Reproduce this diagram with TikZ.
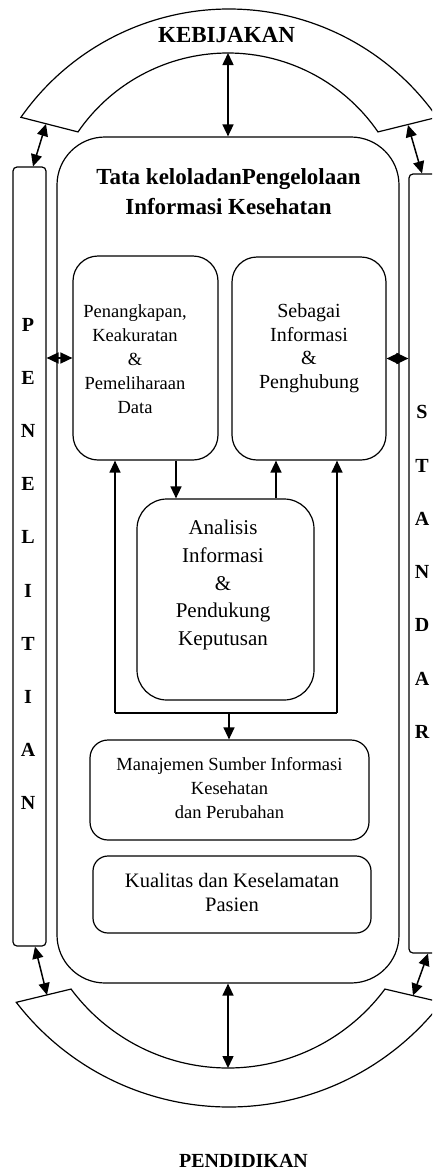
\documentclass[tikz,border=0pt]{standalone}
\usepackage{fontspec}
\setmainfont{Liberation Serif}
\usetikzlibrary{arrows.meta,calc}
\begin{document}
\begin{tikzpicture}[x=1pt,y=-1pt,
  shp/.style={draw=black,line width=1.2pt},
  box/.style={shp,inner sep=0pt},
  tip/.tip={Triangle[length=12pt,width=11pt]},
  dbl/.style={line width=1.5pt,tip-tip},
  sgl/.style={line width=1.5pt,-tip},
  lnk/.style={line width=1.3pt},
  txt/.style={align=center,inner sep=0pt}]
\useasboundingbox (0,0) rectangle (432,1173);
\clip (0,0) rectangle (432,1173);

% arches
\draw[shp] ($(229,263)+(-145:254)$) arc[start angle=-145,end angle=-35,radius=254]
  -- ($(228,235)+(-34.5:182)$) arc[start angle=-34.5,end angle=-145.5,radius=182] -- cycle;
\draw[shp] ($(229,838.5)+(142.4:268.5)$) arc[start angle=142.4,end angle=37.6,radius=268.5]
  -- ($(228,872.5)+(36.6:195.5)$) arc[start angle=36.6,end angle=143.4,radius=195.5] -- cycle;
\coordinate (kin) at (228,53);
\coordinate (kleft) at (46,124);
\coordinate (kright) at (408,125);
\coordinate (pin) at (228,1068);
\coordinate (pleft) at (47,995);
\coordinate (pright) at (413,995.5);

\node[font=\bfseries\fontsize{23}{28}\selectfont,txt] (keb) at (226.5,35.5) {KEBIJAKAN};
\node[font=\bfseries\fontsize{20}{24}\selectfont,txt] (pend) at (243.5,1161) {PENDIDIKAN};

% frames
\node[box,rounded corners=48pt,minimum width=342pt,minimum height=846pt] (main) at (228,560) {};
\node[box,rounded corners=4pt,minimum width=33pt,minimum height=779pt] (pen) at (29.5,556.5) {};
\node[box,rounded corners=4pt,minimum width=33pt,minimum height=779pt] (std) at (425.5,563.5) {};
\node[txt,font=\bfseries\fontsize{20}{53.2}\selectfont] (pentxt) at (28,564) {P\\E\\N\\E\\L\\I\\T\\I\\A\\N};
\node[txt,font=\bfseries\fontsize{20}{53.3}\selectfont] (stdtxt) at (422,572) {S\\T\\A\\N\\D\\A\\R};

\node[txt,font=\bfseries\fontsize{23}{30}\selectfont] (title) at (228.5,192) {Tata keloladanPengelolaan\\Informasi Kesehatan};

% inner boxes
\node[box,rounded corners=25pt,minimum width=145pt,minimum height=204pt] (b1) at (145.5,358) {};
\node[box,rounded corners=25pt,minimum width=154pt,minimum height=203pt] (b2) at (309,358.5) {};
\node[box,rounded corners=30pt,minimum width=177pt,minimum height=201pt] (b3) at (225.5,599.5) {};
\node[box,rounded corners=18pt,minimum width=279pt,minimum height=100pt] (b4) at (229.5,790) {};
\node[box,rounded corners=15pt,minimum width=278pt,minimum height=77pt] (b5) at (232,894.5) {};

\node[txt,font=\fontsize{18.5}{24}\selectfont] (t1) at (135,359.5) {Penangkapan,\\Keakuratan\\\&\\Pemeliharaan\\Data};
\node[txt,font=\fontsize{20}{23.5}\selectfont] (t2) at (309,348) {Sebagai\\Informasi\\\&\\Penghubung};
\node[txt,font=\fontsize{21}{27.8}\selectfont] (t3) at (223,585) {Analisis\\Informasi\\\&\\Pendukung\\Keputusan};
\node[txt,font=\fontsize{18.5}{24}\selectfont] (t4) at (229.5,788) {Manajemen Sumber Informasi\\Kesehatan\\dan Perubahan};
\node[txt,font=\fontsize{20.5}{24}\selectfont] (t5) at (232,892) {Kualitas dan Keselamatan\\Pasien};

% connectors
\draw[dbl] (main.north) -- (kin);
\draw[dbl] (main.south) -- (pin);
\draw[dbl] ([xshift=3.5pt]pen.north) -- (kleft);
\draw[dbl] ([xshift=-3.5pt]std.north) -- (kright);
\draw[dbl] ([xshift=5.5pt]pen.south) -- (pleft);
\draw[dbl] ([xshift=2.5pt]std.south) -- (pright);
\draw[dbl] (pen.east |- b1.west) -- (b1.west);
\draw[dbl] (b2.east) -- (std.west |- b2.east);

\draw[sgl] ([xshift=30.5pt]b1.south) -- ([xshift=30.5pt]b1.south |- b3.north);
\draw[sgl] ([xshift=50.5pt]b3.north) -- ([xshift=50.5pt]b3.north |- b2.south);

\coordinate (lb) at (115,713);
\coordinate (rb) at (337,713);
\coordinate (mb) at (229,713);
\draw[lnk] (lb) -- (rb);
\draw[lnk,-tip] (lb) -- (lb |- b1.south);
\draw[lnk,-tip] (rb) -- (rb |- b2.south);
\draw[lnk,-tip] (mb) -- (mb |- b4.north);
\end{tikzpicture}
\end{document}
